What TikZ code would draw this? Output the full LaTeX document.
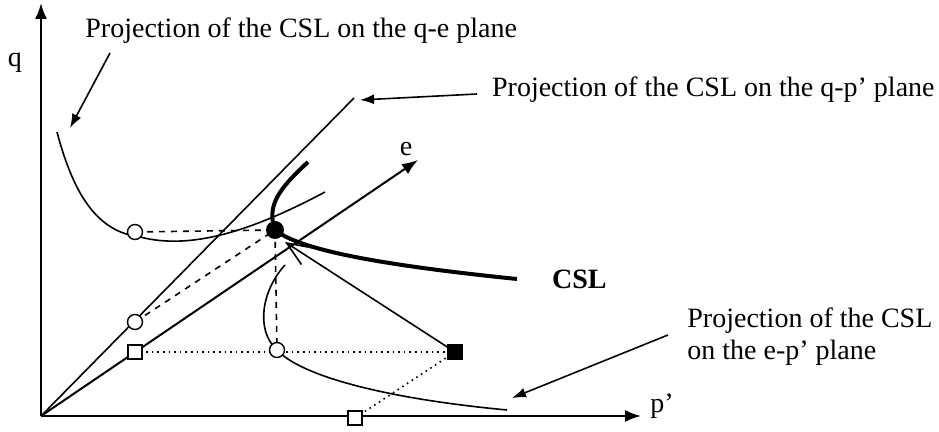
\documentclass[tikz,border=0pt]{standalone}
\usepackage{fontspec}
\setmainfont{Liberation Serif}
\usetikzlibrary{arrows.meta,positioning}
\begin{document}
\begin{tikzpicture}[x=0.5pt,y=-0.5pt,font=\fontsize{14}{16}\selectfont,
    axis/.style={line width=1pt,-{Latex[length=8pt,width=6pt]}},
    pointer/.style={line width=0.8pt,-{Latex[length=7pt,width=5pt]}},
    curve/.style={line width=0.8pt},
    cslline/.style={line width=2pt},
    proj/.style={circle,draw,fill=white,line width=0.7pt,minimum size=7.5pt,inner sep=0pt},
    boxmark/.style={rectangle,draw,fill=white,line width=0.7pt,minimum size=7pt,inner sep=0pt}]
    \useasboundingbox (0,0) rectangle (939,432);
    \coordinate (O) at (41,416);
    \coordinate (qtop) at (41,3);
    \coordinate (pend) at (641,416);
    \coordinate (eend) at (418,160);
    \coordinate (qpend) at (354,98);
    \coordinate (A) at (275,230);
    \coordinate (Aqe) at (135,232);
    \coordinate (Aqp) at (135,322);
    \coordinate (Aep) at (277,350);
    \coordinate (Be) at (135,352);
    \coordinate (Bp) at (355,418);
    \coordinate (B) at (455,352);
    \coordinate (Btip) at (285,242);
    \coordinate (qetail) at (110,53);
    \coordinate (qehead) at (70,128);
    \coordinate (qptail) at (477,94);
    \coordinate (qphead) at (360,100);
    \coordinate (eptail) at (668,335);
    \coordinate (ephead) at (512,398);
    \draw[axis] (O) -- (qtop);
    \draw[axis] (O) -- (pend);
    \draw[axis] (O) -- (eend);
    \draw[curve] (O) -- (qpend);
    \node[anchor=base] (q) at (15,67) {q};
    \node[anchor=base] (e) at (406,156) {e};
    \node[anchor=base] (p) at (662,413) {p'};
    \draw[curve] (57,132) .. controls (75,200) and (100,232) .. (140,237)
        .. controls (190,250) and (250,232) .. (325,192);
    \draw[curve] (285,265) .. controls (262,290) and (255,330) .. (Aep)
        .. controls (300,375) and (380,398) .. (507,410);
    \draw[cslline] (308,162) .. controls (280,188) and (266,205) .. (A)
        .. controls (300,250) and (380,265) .. (517,279);
    \draw[dashed,curve] (Aqe) -- (A);
    \draw[dashed,curve] (Aqp) -- (A);
    \draw[dashed,curve] (A) -- (Aep);
    \draw[dotted,curve] (Be) -- (B);
    \draw[dotted,curve] (B) -- (Bp);
    \draw[curve,-{Straight Barb[length=12pt,width=10pt]}] (B) -- (Btip);
    \node[proj] (cqe) at (Aqe) {};
    \node[proj] (cqp) at (Aqp) {};
    \node[proj] (cep) at (Aep) {};
    \node[boxmark] (sqe) at (Be) {};
    \node[boxmark] (sqp) at (Bp) {};
    \node[boxmark,fill=black] (sqb) at (B) {};
    \node[circle,fill=black,minimum size=9pt,inner sep=0pt] (dot) at (A) {};
    \node[anchor=base west,font=\fontsize{14}{16}\bfseries] (csl) at (545,289) {CSL};
    \node[anchor=base west,inner sep=0pt] (tqe) at (85,38) {Projection of the CSL on the q-e plane};
    \node[anchor=base east,inner sep=0pt] (tqp) at (935,97) {Projection of the CSL on the q-p' plane};
    \node[anchor=west,align=left,inner sep=0pt] (tep) at (687,337) {Projection of the CSL\\on the e-p' plane};
    \draw[pointer] (qetail) -- (qehead);
    \draw[pointer] (qptail) -- (qphead);
    \draw[pointer] (eptail) -- (ephead);
\end{tikzpicture}
\end{document}
